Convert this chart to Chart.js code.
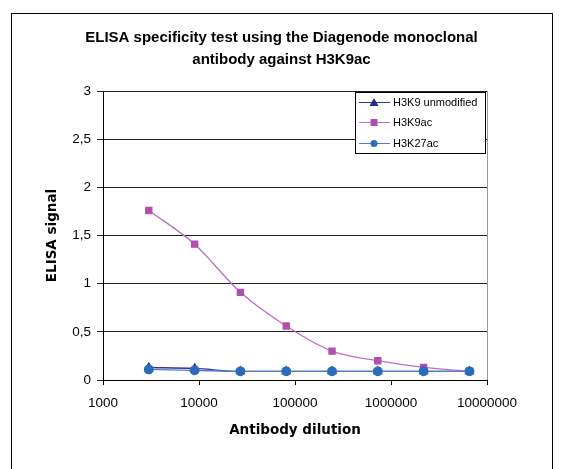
<!DOCTYPE html>
<html>
<head>
<meta charset="utf-8">
<script src="https://cdn.jsdelivr.net/npm/chart.js@4/dist/chart.umd.min.js"></script>
<style>
  html, body { margin: 0; padding: 0; background: #fff; }
  #wrap { width: 563px; height: 469px; }
</style>
</head>
<body>
<div id="wrap"><canvas id="chart" width="563" height="469"></canvas></div>
<script>
// antibody dilutions (3-fold series)
const dilutions = [3000, 9000, 27000, 81000, 243000, 729000, 2187000, 6561000];
const h3k9Unmod = [0.13, 0.12, 0.09, 0.09, 0.09, 0.09, 0.09, 0.09];
const h3k9ac = [1.76, 1.41, 0.91, 0.56, 0.30, 0.20, 0.13, 0.09];
const h3k27ac = [0.11, 0.10, 0.09, 0.09, 0.09, 0.09, 0.09, 0.09];
const yTicks = [0, 0.5, 1, 1.5, 2, 2.5, 3];
const xTicks = [1000, 10000, 100000, 1000000, 10000000];

const toPoints = vals => vals.map((v, i) => ({ x: dilutions[i], y: v }));

const series = [
    { label: 'H3K9 unmodified', data: h3k9Unmod, line: '#333399', fill: '#2b2b86', style: 'triangle', order: 2 },
    { label: 'H3K9ac', data: h3k9ac, line: '#c36cc3', fill: '#b04fb0', style: 'rect', order: 1 },
    { label: 'H3K27ac', data: h3k27ac, line: '#4f7fc4', fill: '#2a6bba', style: 'circle', order: 0 }
];

// outer frame + right border of plot
const framePlugin = {
    id: 'frame',
    beforeDraw(chart) {
        const c = chart.ctx;
        c.save();
        c.fillStyle = '#fff';
        c.fillRect(0, 0, chart.width, chart.height);
        c.strokeStyle = '#000';
        c.lineWidth = 1;
        c.strokeRect(11.5, 13.5, 541, 470);
        c.restore();
    },
    afterDatasetsDraw(chart) {
        const a = chart.chartArea;
        const c = chart.ctx;
        c.save();
        c.strokeStyle = '#999';
        c.beginPath();
        c.moveTo(Math.round(a.right) + 0.5, a.top);
        c.lineTo(Math.round(a.right) + 0.5, a.bottom);
        c.stroke();
        c.restore();
    }
};

// legend box inside plot, top right
const boxLegend = {
    id: 'boxLegend',
    afterDraw(chart) {
        const c = chart.ctx;
        const x0 = 355.5, y0 = 92.5, w = 130, h = 61;
        c.save();
        c.fillStyle = '#fff';
        c.fillRect(x0, y0, w, h);
        c.strokeStyle = '#000';
        c.lineWidth = 1;
        c.strokeRect(x0, y0, w, h);
        c.font = '11px "Liberation Sans", Arial, sans-serif';
        c.textBaseline = 'middle';
        const rows = [102, 122, 143];
        series.forEach((s, i) => {
            const y = rows[i];
            c.strokeStyle = s.line;
            c.beginPath();
            c.moveTo(359, y + 0.5);
            c.lineTo(390, y + 0.5);
            c.stroke();
            c.fillStyle = s.fill;
            const mx = 374, my = y + 0.5;
            c.beginPath();
            if (s.style === 'triangle') {
                c.moveTo(mx, my - 4.5); c.lineTo(mx + 4.5, my + 3.5); c.lineTo(mx - 4.5, my + 3.5); c.closePath();
            } else if (s.style === 'rect') {
                c.rect(mx - 3.5, my - 3.5, 7, 7);
            } else {
                c.arc(mx, my, 3.5, 0, Math.PI * 2);
            }
            c.fill();
            c.fillStyle = '#000';
            c.fillText(s.label, 393, y + 1);
        });
        c.restore();
    }
};

new Chart(document.getElementById('chart'), {
    type: 'scatter',
    data: {
        datasets: series.map(s => ({
            label: s.label,
            data: toPoints(s.data),
            showLine: true,
            borderColor: s.line,
            borderWidth: 1.3,
            backgroundColor: s.fill,
            pointBackgroundColor: s.fill,
            pointBorderColor: s.fill,
            pointStyle: s.style,
            pointRadius: s.style === 'triangle' ? 4.5 : 4.3,
            tension: 0.4,
            cubicInterpolationMode: 'monotone',
            order: s.order
        }))
    },
    options: {
        responsive: false,
        animation: false,
        devicePixelRatio: 1,
        layout: { padding: 0 },
        plugins: {
            legend: { display: false },
            tooltip: { enabled: false },
            title: {
                display: true,
                text: ['ELISA specificity test using the Diagenode monoclonal', 'antibody against H3K9ac'],
                color: '#000',
                font: { family: '"Liberation Sans", Arial, sans-serif', size: 15, weight: 'bold', lineHeight: 22 / 15 },
                padding: { top: 27, bottom: 20 }
            }
        },
        scales: {
            x: {
                type: 'logarithmic',
                min: 1000,
                max: 10000000,
                afterBuildTicks: scale => { scale.ticks = xTicks.map(v => ({ value: v })); },
                afterFit: scale => { scale.height = 89; },
                ticks: {
                    color: '#000',
                    font: { family: '"Liberation Sans", Arial, sans-serif', size: 13.5 },
                    padding: 10,
                    maxRotation: 0,
                    autoSkip: false,
                    callback: v => String(v)
                },
                grid: { display: true, drawOnChartArea: false, color: '#000', tickLength: 5 },
                border: { color: '#000' },
                title: {
                    display: true,
                    text: 'Antibody dilution',
                    color: '#000',
                    font: { family: '"DejaVu Sans", Verdana, sans-serif', size: 13.5, weight: 'bold', lineHeight: 1.2 },
                    padding: { top: 0, bottom: 30 }
                }
            },
            y: {
                min: 0,
                max: 3,
                afterBuildTicks: scale => { scale.ticks = yTicks.map(v => ({ value: v })); },
                afterFit: scale => { scale.width = 103; },
                ticks: {
                    color: '#000',
                    font: { family: '"Liberation Sans", Arial, sans-serif', size: 13.5 },
                    padding: 6,
                    callback: v => String(v).replace('.', ',')
                },
                grid: { color: '#222', tickLength: 6 },
                border: { color: '#000' },
                title: {
                    display: true,
                    text: 'ELISA signal',
                    color: '#000',
                    font: { family: '"DejaVu Sans", Verdana, sans-serif', size: 13.5, weight: 'bold', lineHeight: 1.2 },
                    padding: { top: 44, bottom: 0 }
                }
            },
            // empty right-hand strip so the title stays centred on the whole canvas
            yRight: {
                position: 'right',
                min: 0,
                max: 3,
                afterFit: scale => { scale.width = 76; },
                ticks: { display: false },
                grid: { display: false },
                border: { display: false }
            }
        }
    },
    plugins: [framePlugin, boxLegend]
});
</script>
</body>
</html>
